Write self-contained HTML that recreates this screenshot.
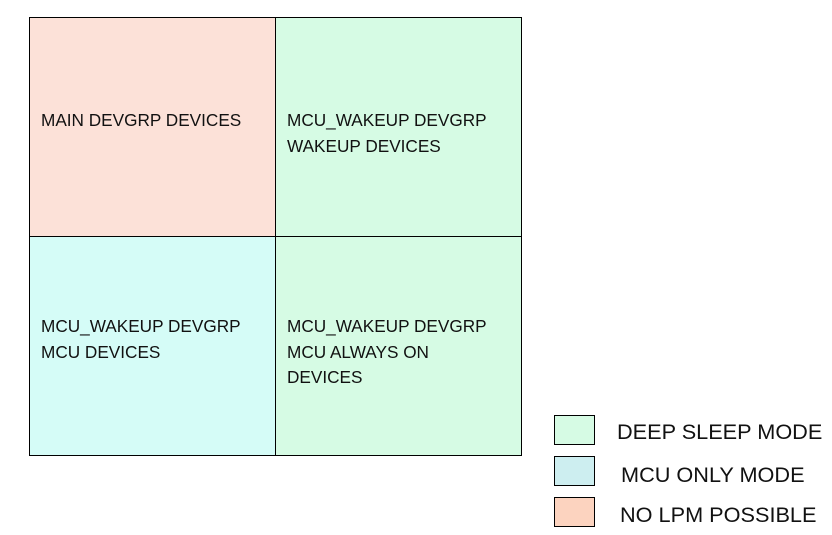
<!DOCTYPE html>
<html><head><style>
body{margin:0;width:832px;height:535px;background:#fff;position:relative;overflow:hidden;font-family:"Liberation Sans",sans-serif;}
.c{position:absolute;box-sizing:border-box;border:1px solid #000;}
.t{position:absolute;font-size:17.2px;line-height:25.5px;color:#111;}
.l{position:absolute;font-size:21.7px;color:#111;line-height:28px;}
</style></head><body>
<div class="c" style="left:29px;top:17px;width:247px;height:220px;background:#fce1d8"></div>
<div class="c" style="left:275px;top:17px;width:247px;height:220px;background:#d6fbe4"></div>
<div class="c" style="left:29px;top:236px;width:247px;height:220px;background:#d5fcf7"></div>
<div class="c" style="left:275px;top:236px;width:247px;height:220px;background:#d6fbe4"></div>
<div class="t" style="left:41px;top:108px">MAIN DEVGRP DEVICES</div>
<div class="t" style="left:287px;top:108px">MCU_WAKEUP DEVGRP<br>WAKEUP DEVICES</div>
<div class="t" style="left:41px;top:314px">MCU_WAKEUP DEVGRP<br>MCU DEVICES</div>
<div class="t" style="left:287px;top:314px">MCU_WAKEUP DEVGRP<br>MCU ALWAYS ON<br>DEVICES</div>
<div class="c" style="left:554px;top:415px;width:41px;height:30px;background:#d6fbe4"></div>
<div class="c" style="left:554px;top:456px;width:41px;height:30px;background:#cdeef0"></div>
<div class="c" style="left:554px;top:497px;width:41px;height:30px;background:#fcd3bf"></div>
<div class="l" style="left:617px;top:418px">DEEP SLEEP MODE</div>
<div class="l" style="left:621px;top:461px">MCU ONLY MODE</div>
<div class="l" style="left:620px;top:501px">NO LPM POSSIBLE</div>
</body></html>
